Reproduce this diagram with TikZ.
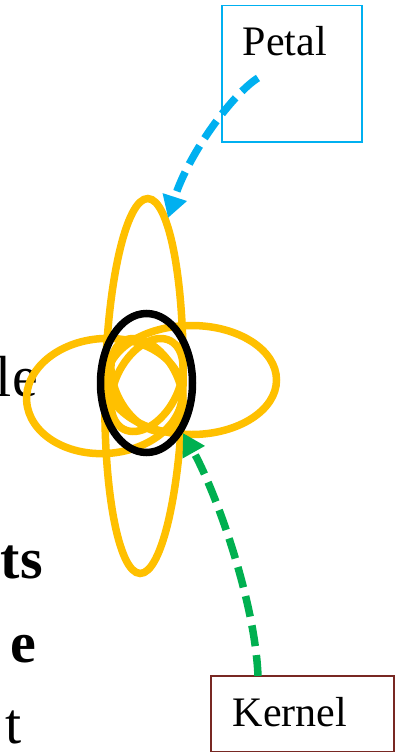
\documentclass[tikz,border=0pt]{standalone}
\usepackage{fontspec}
\setmainfont{Liberation Serif}
\usetikzlibrary{arrows.meta,shapes.geometric}
\definecolor{petalyellow}{HTML}{FFC000}
\definecolor{petalblue}{HTML}{00B0F0}
\definecolor{kernelgreen}{HTML}{00B050}
\definecolor{kernelred}{RGB}{120,40,35}
\tikzset{
  petalshape/.style={ellipse, draw=petalyellow, line width=7.5pt, inner sep=0pt},
  kernelshape/.style={ellipse, draw=black, line width=7.5pt, inner sep=0pt},
  labelbox/.style={draw, line width=1.5pt, inner ysep=0pt, align=left, anchor=north west,
    font=\fontsize{42}{42}\selectfont},
  pointer/.style={line width=7.5pt, dash pattern=on 21pt off 9pt,
    -{Triangle[length=22pt,width=24pt]}},
  sidetext/.style={inner sep=0pt, font=\fontsize{58}{58}\selectfont},
  sidebold/.style={inner sep=0pt, font=\fontsize{58}{58}\selectfont\bfseries}
}
\begin{document}
\begin{tikzpicture}[x=1pt,y=-1pt]
\useasboundingbox[fill=white] (0,0) rectangle (395,752);
% cut-off text on the left
\node[sidetext, anchor=base east] (t1) at (38,396) {le};
\node[sidebold, anchor=base east] (t2) at (43,578) {ts};
\node[sidebold, anchor=base east] (t3) at (36,662) {e};
\node[sidetext, anchor=base west] (t4) at (5,743) {t};
% flower
\node[petalshape, minimum width=78pt, minimum height=375pt, rotate=-1.2] (vpetal) at (144,386) {};
\node[petalshape, minimum width=156pt, minimum height=115pt, rotate=4] (lpetal) at (104.5,396) {};
\node[petalshape, minimum width=170pt, minimum height=109pt] (rpetal) at (191.5,380) {};
\node[petalshape, minimum width=62pt, minimum height=100pt, rotate=28] (ipetal1) at (147,385) {};
\node[petalshape, minimum width=62pt, minimum height=100pt, rotate=-28] (ipetal2) at (147,385) {};
\node[kernelshape, minimum width=92pt, minimum height=139pt] (kernel) at (146.5,383) {};
% label boxes
\node[labelbox, draw=petalblue, inner xsep=21pt, text width=98pt, text height=50pt, text depth=86pt] (petalbox) at (221,5) {Petal};
\node[labelbox, draw=kernelred, inner xsep=22pt, text width=139pt, text height=51pt, text depth=25pt] (kernelbox) at (210,675) {Kernel};
% connector ends
\coordinate (pstart) at (258,78);
\coordinate (pend) at (168,218);
\coordinate (kstart) at (258,676);
\coordinate (kend) at (183,433);
% connectors
\draw[pointer, petalblue] (pstart) .. controls (235,92) and (190,150) .. (pend);
\draw[pointer, kernelgreen] (kstart) .. controls (255,600) and (215,490) .. (kend);
\end{tikzpicture}
\end{document}
